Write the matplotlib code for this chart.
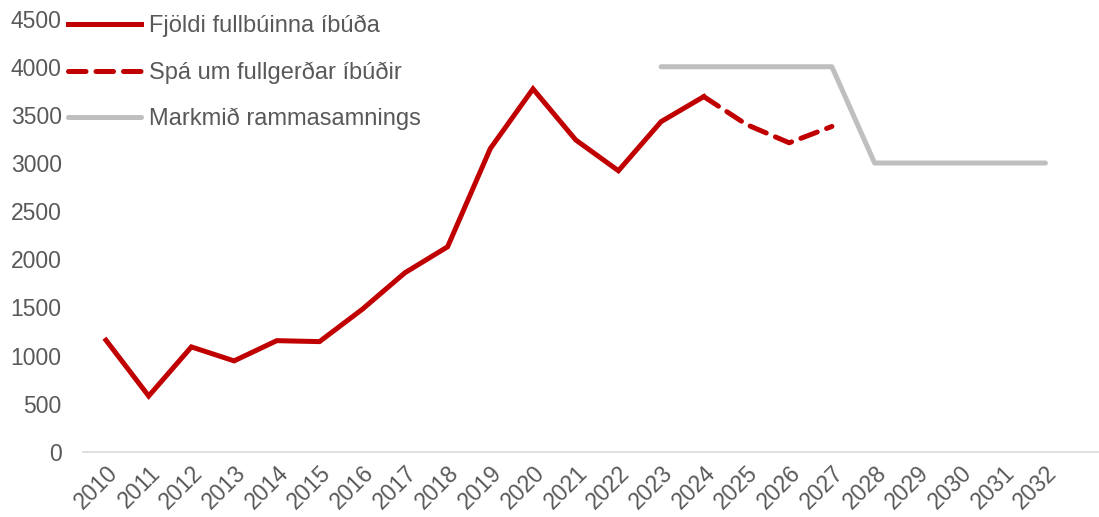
import matplotlib
matplotlib.use("Agg")
import matplotlib.pyplot as plt

plt.rcParams['font.family'] = ['Liberation Sans', 'DejaVu Sans']

years = [str(y) for y in range(2010, 2033)]

# Fjöldi fullbúinna íbúða 2010-2024
actual = [1160, 580, 1090, 945, 1155, 1145, 1480, 1860, 2130,
          3150, 3770, 3240, 2920, 3430, 3690]
# Spá 2024-2027
forecast = [3690, 3400, 3210, 3380]
# Markmið rammasamnings 2023-2032
target = [4000, 4000, 4000, 4000, 4000, 3000, 3000, 3000, 3000, 3000]

red = '#c00000'
grey = '#bfbfbf'
txt = '#595959'

fig = plt.figure(figsize=(10.99, 5.17), dpi=100)
ax = fig.add_axes([82.5 / 1099, 0.126, 1015 / 1099, 0.838])

x = list(range(len(years)))
ax.plot(x[:len(actual)], actual, color=red, lw=3.6, solid_joinstyle='miter',
        label='Fjöldi fullbúinna íbúða')
ax.plot(x[14:14 + len(forecast)], forecast, color=red, lw=3.6, ls=(0, (3.5, 2)),
        dash_capstyle='round', label='Spá um fullgerðar íbúðir')
ax.plot(x[13:13 + len(target)], target, color=grey, lw=3.6, solid_capstyle='round',
        label='Markmið rammasamnings')

ax.set_xlim(-0.55, 23.22)
ax.set_ylim(0, 4500)
ax.set_yticks(range(0, 4501, 500))
ax.set_xticks(x)
ax.set_xticklabels(years, rotation=45, ha='right', va='top', rotation_mode='anchor')
ax.tick_params(axis='both', length=0, labelsize=16.5, colors=txt)
ax.tick_params(axis='x', pad=7)
ax.tick_params(axis='y', pad=15)

for s in ['top', 'right', 'left']:
    ax.spines[s].set_visible(False)
ax.spines['bottom'].set_color('#d9d9d9')
ax.spines['bottom'].set_linewidth(1.2)

leg = ax.legend(loc='upper left', bbox_to_anchor=(68 / 1099, 1 - 15 / 517),
                bbox_transform=fig.transFigure, frameon=False, fontsize=17,
                handlelength=3.1, handletextpad=0.35, labelspacing=1.02,
                borderpad=0, borderaxespad=0)
for t in leg.get_texts():
    t.set_color(txt)

plt.savefig('out.png', dpi=100)
